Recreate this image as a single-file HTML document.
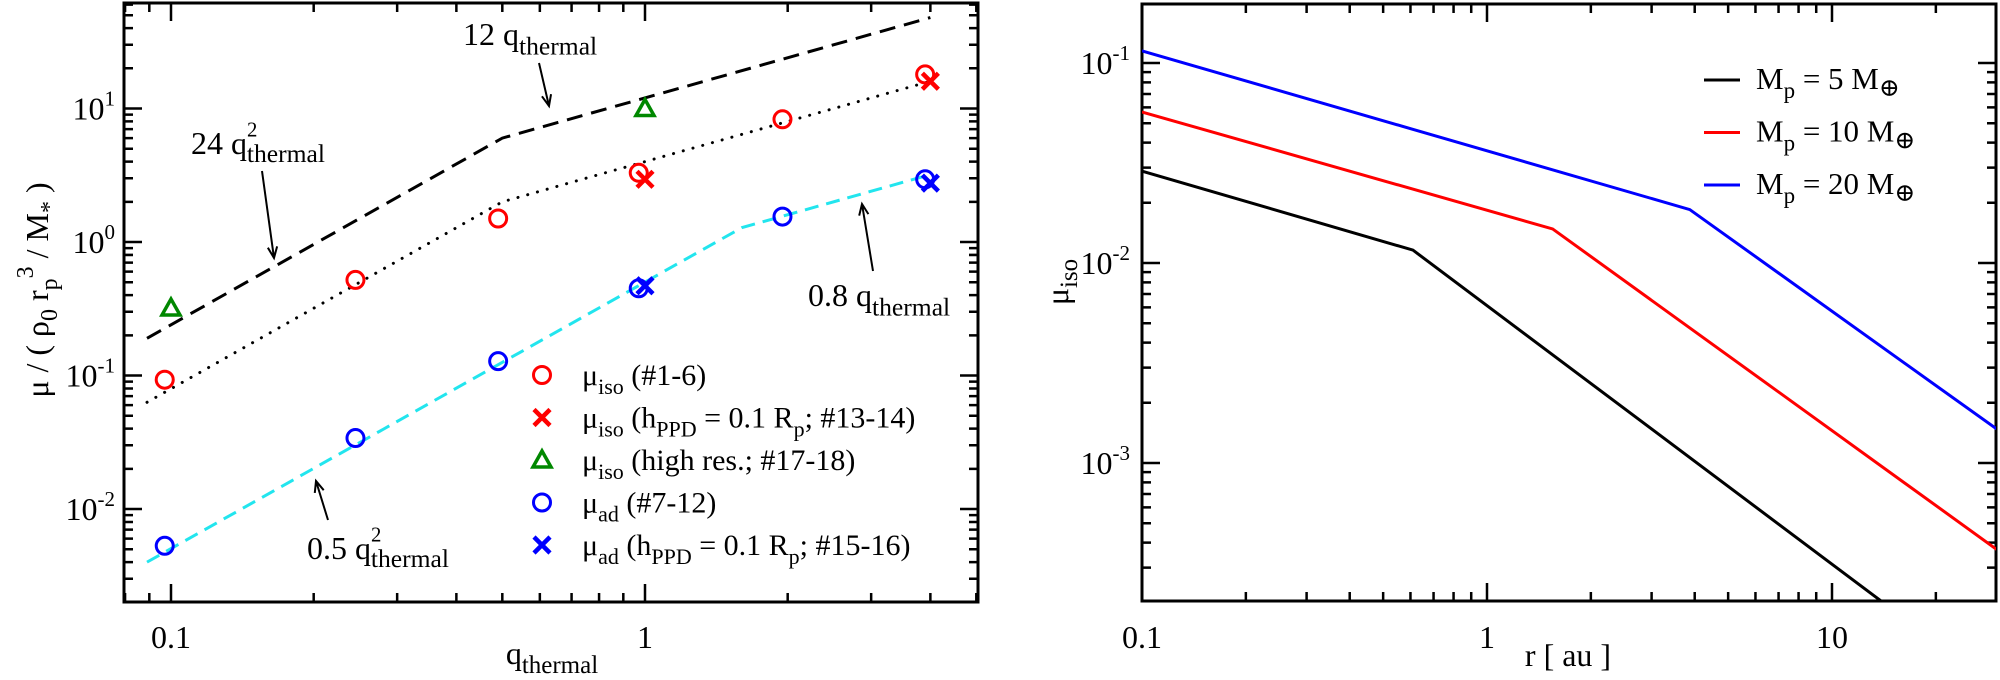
<!DOCTYPE html>
<html><head><meta charset="utf-8"><style>
html,body{margin:0;padding:0;background:#fff;}
svg{display:block;font-family:"Liberation Serif","DejaVu Serif",serif;}
svg text{font-family:"Liberation Serif","DejaVu Serif",serif;}
</style></head><body>
<svg id="fig" width="2000" height="680" viewBox="0 0 2000 680" xmlns="http://www.w3.org/2000/svg" font-family="Liberation Serif, DejaVu Serif, serif">
<defs>
<clipPath id="clipL"><rect x="124" y="3" width="854" height="599"/></clipPath>
<clipPath id="clipR"><rect x="1142" y="4" width="854" height="597"/></clipPath>
</defs>
<g id="left"></g>
<g id="right"></g>
</svg>
<script>
// ---- left panel data ----
const isoQ = [0.097, 0.245, 0.49, 0.97, 1.95, 3.9];
const isoVals = [0.093, 0.52, 1.5, 3.3, 8.3, 18];
const adQ = [0.097, 0.245, 0.49, 0.97, 1.95, 3.9];
const adVals = [0.0053, 0.034, 0.128, 0.45, 1.55, 2.95];
const isoXQ = [1, 4];
const isoXVals = [2.95, 16];
const adXQ = [1, 4];
const adXVals = [0.47, 2.76];
const hiresQ = [0.1, 1];
const hiresVals = [0.32, 10];
const fitHighQ = [0.089, 0.5, 4];
const fitHighVals = [0.19, 6, 48];
const fitIsoQ = [0.089, 0.5, 4];
const fitIsoVals = [0.063, 2, 16];
const fitAdQ = [0.089, 1.6, 4];
const fitAdVals = [0.004, 1.28, 3.2];
const leftYTicks = [-2, -1, 0, 1];
const leftXTicks = ["0.1", "1"];
// ---- right panel data ----
const rBlack = [0.1, 0.61, 14.1];
const vBlack = [0.0288, 0.0116, 0.0002];
const rRed = [0.1, 1.55, 30];
const vRed = [0.0569, 0.0148, 0.00037];
const rBlue = [0.1, 3.87, 30];
const vBlue = [0.115, 0.0185, 0.00148];
const rightYTicks = [-3, -2, -1];
const rightXTicks = ["0.1", "1", "10"];

const NS = "http://www.w3.org/2000/svg";
const FONT = "Liberation Serif, DejaVu Serif, serif";
function mk(parent, tag, attrs, text) {
  const e = document.createElementNS(NS, tag);
  for (const k in attrs) e.setAttribute(k, attrs[k]);
  if (tag === "text") e.setAttribute("font-family", FONT);
  if (text !== undefined) e.textContent = text;
  parent.appendChild(e);
  return e;
}
const L = document.getElementById("left");
const R = document.getElementById("right");
const lx = q => 171 + (Math.log10(q) + 1) * 474;
const ly = v => 242 - Math.log10(v) * 133.5;
const rx = r => 1142 + (Math.log10(r) + 1) * 345;
const ry = v => 63 - (Math.log10(v) + 1) * 200;

function frame(g, x0, y0, x1, y1, xs, ys, xmin, xmax, ymin, ymax) {
  const f = mk(g, "rect", {x: x0, y: y0, width: x1 - x0, height: y1 - y0, fill: "none", stroke: "#000", "stroke-width": 3});
  
  
  let d = "";
  for (let e = Math.floor(xmin); e <= Math.ceil(xmax); e++) for (let m = 1; m < 10; m++) {
    const lv = e + Math.log10(m);
    if (lv < xmin - 1e-6 || lv > xmax + 1e-6) continue;
    const X = xs(Math.pow(10, lv)), len = m === 1 ? 18 : 9;
    d += `M${X} ${y1}v${-len}M${X} ${y0}v${len}`;
  }
  for (let e = Math.floor(ymin); e <= Math.ceil(ymax); e++) for (let m = 1; m < 10; m++) {
    const lv = e + Math.log10(m);
    if (lv < ymin - 1e-6 || lv > ymax + 1e-6) continue;
    const Y = ys(Math.pow(10, lv)), len = m === 1 ? 18 : 9;
    d += `M${x0} ${Y}h${len}M${x1} ${Y}h${-len}`;
  }
  const t = mk(g, "path", {d: d, stroke: "#000", "stroke-width": 2.5, fill: "none"});
  
  
}
function ytick(g, x, y, exp) {
  const t = mk(g, "text", {x: x, y: y + 11, "font-size": 32, "text-anchor": "end"});
  
  
  mk(t, "tspan", {}, "10");
  mk(t, "tspan", {dy: -14, "font-size": 21}, String(exp));
}
function xtick(g, x, label) {
  const t = mk(g, "text", {x: x, y: 648, "font-size": 32, "text-anchor": "middle"}, label);
  
  
}
function line(g, xs, ys, qa, va, color, w, dash, clip, name) {
  const pts = qa.map((q, i) => xs(q) + "," + ys(va[i])).join(" ");
  const p = mk(g, "polyline", {points: pts, fill: "none", stroke: color, "stroke-width": w, "clip-path": clip, "stroke-linecap": dash === "dot" ? "round" : "butt"});
  if (dash === "dot") p.setAttribute("stroke-dasharray", "0.1 10");
  else if (dash) p.setAttribute("stroke-dasharray", dash);
  
  
}
function circle(g, x, y, color, name) {
  const c = mk(g, "circle", {cx: x, cy: y, r: 8.5, fill: "none", stroke: color, "stroke-width": 3});
  
  
}
function cross(g, x, y, color, name) {
  const c = mk(g, "path", {d: `M${x-8} ${y-8}L${x+8} ${y+8}M${x+8} ${y-8}L${x-8} ${y+8}`, stroke: color, "stroke-width": 4.5, fill: "none"});
  
  
}
function tri(g, x, y, color, name) {
  const c = mk(g, "path", {d: `M${x} ${y-9}L${x+9} ${y+7}L${x-9} ${y+7}Z`, stroke: color, "stroke-width": 3.5, fill: "none"});
  
  
}
function arrow(g, x0, y0, x1, y1, name) {
  const ang = Math.atan2(y1 - y0, x1 - x0), h = 12;
  const a1 = ang + Math.PI - 0.4, a2 = ang + Math.PI + 0.4;
  const d = `M${x0} ${y0}L${x1} ${y1}M${x1 + h*Math.cos(a1)} ${y1 + h*Math.sin(a1)}L${x1} ${y1}L${x1 + h*Math.cos(a2)} ${y1 + h*Math.sin(a2)}`;
  const p = mk(g, "path", {d: d, stroke: "#000", "stroke-width": 2, fill: "none"});
  
  
}
function qlabel(g, x, y, main, sup, sub, name, size) {
  size = size || 32;
  const t = mk(g, "text", {x: x, y: y, "font-size": size});
  
  
  mk(t, "tspan", {}, main);
  if (sup) {
    mk(t, "tspan", {dy: -size * 0.55, "font-size": size * 0.65}, sup);
    mk(t, "tspan", {dx: -size * 0.33, dy: size * 0.8, "font-size": size * 0.8}, sub);
  } else {
    mk(t, "tspan", {dy: size * 0.3, "font-size": size * 0.8}, sub);
  }
  return t;
}

// ===== LEFT PANEL =====
frame(L, 124, 3, 978, 602, lx, ly, Math.log10(0.0795), Math.log10(5.05), -2.69, 1.79);
leftYTicks.forEach(e => ytick(L, 115, ly(Math.pow(10, e)), e));
leftXTicks.forEach(s => xtick(L, lx(parseFloat(s)), s));
line(L, lx, ly, fitHighQ, fitHighVals, "#000", 3, "16 9", "url(#clipL)", "fit-line-high-res");
line(L, lx, ly, fitIsoQ, fitIsoVals, "#000", 3, "dot", "url(#clipL)", "fit-line-iso");
line(L, lx, ly, fitAdQ, fitAdVals, "#22e5ee", 3, "14 8", "url(#clipL)", "fit-line-ad");
isoQ.forEach((q, i) => circle(L, lx(q), ly(isoVals[i]), "#f00", "iso-point"));
adQ.forEach((q, i) => circle(L, lx(q), ly(adVals[i]), "#00f", "ad-point"));
isoXQ.forEach((q, i) => cross(L, lx(q), ly(isoXVals[i]), "#f00", "iso-hppd-point"));
adXQ.forEach((q, i) => cross(L, lx(q), ly(adXVals[i]), "#00f", "ad-hppd-point"));
hiresQ.forEach((q, i) => tri(L, lx(q), ly(hiresVals[i]), "#080", "high-res-point"));

qlabel(L, 463, 45, "12 q", null, "thermal", "annotation-12q");
arrow(L, 539, 63, 549, 106, "arrow-12q");
qlabel(L, 191, 154, "24 q", "2", "thermal", "annotation-24q2");
arrow(L, 262, 171, 274, 258, "arrow-24q2");
qlabel(L, 307, 559, "0.5 q", "2", "thermal", "annotation-05q2");
arrow(L, 328, 520, 316, 481, "arrow-05q2");
qlabel(L, 808, 306, "0.8 q", null, "thermal", "annotation-08q");
arrow(L, 873, 271, 862, 204, "arrow-08q");

const legRows = [
  {sym: "circle", col: "#f00", sub: "iso", txt: " (#1-6)"},
  {sym: "cross", col: "#f00", sub: "iso", txt: " (h", sub2: "PPD", txt2: " = 0.1 R", sub3: "p", txt3: "; #13-14)"},
  {sym: "tri", col: "#080", sub: "iso", txt: " (high res.; #17-18)"},
  {sym: "circle", col: "#00f", sub: "ad", txt: " (#7-12)"},
  {sym: "cross", col: "#00f", sub: "ad", txt: " (h", sub2: "PPD", txt2: " = 0.1 R", sub3: "p", txt3: "; #15-16)"}
];
legRows.forEach((r, i) => {
  const y = 377 + i * 42.5;
  const g = mk(L, "g", {});
  
  
  if (r.sym === "circle") circle(g, 542, y - 2, r.col, "legend-symbol");
  else if (r.sym === "cross") cross(g, 542, y - 2, r.col, "legend-symbol");
  else tri(g, 542, y - 2, r.col, "legend-symbol");
  const t = mk(g, "text", {x: 582, y: y + 8, "font-size": 30});
  mk(t, "tspan", {}, "μ");
  mk(t, "tspan", {dy: 9, "font-size": 22}, r.sub);
  mk(t, "tspan", {dy: -9}, r.txt);
  if (r.sub2) {
    mk(t, "tspan", {dy: 9, "font-size": 22}, r.sub2);
    mk(t, "tspan", {dy: -9}, r.txt2);
    mk(t, "tspan", {dy: 9, "font-size": 22}, r.sub3);
    mk(t, "tspan", {dy: -9}, r.txt3);
  }
});

const lxt = mk(L, "text", {x: 552, y: 664, "font-size": 32, "text-anchor": "middle"});


mk(lxt, "tspan", {}, "q");
mk(lxt, "tspan", {dy: 9, "font-size": 25}, "thermal");
const lyt = mk(L, "text", {x: 0, y: 0, "font-size": 32, "text-anchor": "middle", transform: "translate(48,290) rotate(-90)"});


mk(lyt, "tspan", {}, "μ / ( ρ");
mk(lyt, "tspan", {dy: 9, "font-size": 24}, "0");
mk(lyt, "tspan", {dy: -9}, " r");
mk(lyt, "tspan", {dy: 9, "font-size": 24}, "p");
mk(lyt, "tspan", {dy: -24, "font-size": 24}, "3");
mk(lyt, "tspan", {dy: 15}, " / M");
mk(lyt, "tspan", {dy: 9, "font-size": 24}, "*");
mk(lyt, "tspan", {dy: -9}, " )");

// ===== RIGHT PANEL =====
frame(R, 1142, 4, 1996, 601, rx, ry, -1, Math.log10(29.9), -3.69, -0.7);
rightYTicks.forEach(e => ytick(R, 1130, ry(Math.pow(10, e)), e));
rightXTicks.forEach(s => xtick(R, rx(parseFloat(s)), s));
line(R, rx, ry, rBlack, vBlack, "#000", 3, null, "url(#clipR)", "line-5-earth-mass");
line(R, rx, ry, rRed, vRed, "#f00", 3, null, "url(#clipR)", "line-10-earth-mass");
line(R, rx, ry, rBlue, vBlue, "#00f", 3, null, "url(#clipR)", "line-20-earth-mass");
const rLeg = [["#000", "5"], ["#f00", "10"], ["#00f", "20"]];
rLeg.forEach((l, i) => {
  const y = 80 + i * 52.5;
  const g = mk(R, "g", {});
  
  
  mk(g, "line", {x1: 1704, x2: 1740, y1: y, y2: y, stroke: l[0], "stroke-width": 3});
  const t = mk(g, "text", {x: 1756, y: y + 9, "font-size": 31});
  mk(t, "tspan", {}, "M");
  mk(t, "tspan", {dy: 9, "font-size": 23}, "p");
  mk(t, "tspan", {dy: -9}, " = " + l[1] + " M");
  mk(t, "tspan", {dy: 7, "font-size": 25}, "⊕");
});
const rxt = mk(R, "text", {x: 1568, y: 666, "font-size": 32, "text-anchor": "middle"}, "r [ au ]");


const ryt = mk(R, "text", {x: 0, y: 0, "font-size": 32, "text-anchor": "middle", transform: "translate(1068,282) rotate(-90)"});


mk(ryt, "tspan", {}, "μ");
mk(ryt, "tspan", {dy: 9, "font-size": 25}, "iso");
</script>
</body></html>
